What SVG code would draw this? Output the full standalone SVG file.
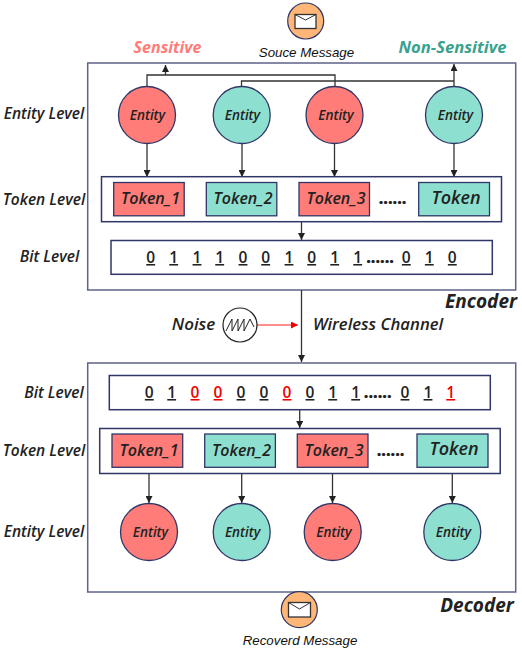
<svg xmlns="http://www.w3.org/2000/svg" width="522" height="652" viewBox="0 0 522 652">
<style>
text{font-family:"Open Sans","Noto Sans","DejaVu Sans",sans-serif;font-style:italic;font-weight:600;fill:#222;text-anchor:middle}
.frame{fill:#fff;stroke:#5d6389;stroke-width:1.5}
.bar{fill:#fff;stroke:#2f3768;stroke-width:1.5}
.red{fill:#ff7c78;stroke:#2f3768;stroke-width:1.3}
.teal{fill:#8de0d0;stroke:#2f3768;stroke-width:1.3}
.ent{font-size:13.500px}
.lvl{font-size:15.500px}
.tok{font-size:16px}
.big{font-size:19px;font-weight:700}
.bit{font-size:15.500px;font-style:normal;font-weight:600;text-decoration:underline}
.dots{font-size:16px;font-style:normal;font-weight:800}
.err{fill:#f00000}
.msg{font-family:"Liberation Sans",Arial,sans-serif;font-weight:400;font-size:13.300px;fill:#111}
.line{fill:none;stroke:#333;stroke-width:1.3}
</style>
<defs>
<marker id="ah" markerUnits="userSpaceOnUse" markerWidth="8" markerHeight="7" refX="7" refY="3.5" orient="auto"><path d="M0,0L7,3.5L0,7z" fill="#222"/></marker>
<marker id="ar" markerUnits="userSpaceOnUse" markerWidth="8" markerHeight="8" refX="7" refY="3.5" orient="auto"><path d="M0,0L7,3.5L0,7z" fill="#f00000"/></marker>
</defs>
<g id="encoder-frame"><rect class="frame" x="87.700" y="63" width="428" height="227"/></g>
<g id="decoder-frame"><rect class="frame" x="87.700" y="363" width="428" height="229"/></g>
<g id="connectors">
<path class="line" d="M147,87V75H335V87"/>
<path class="line" d="M165.500,75V65" marker-end="url(#ah)"/>
<path class="line" d="M241.500,87V81H454"/>
<path class="line" d="M454,87V64" marker-end="url(#ah)"/>
<path class="line" d="M147,143V177" marker-end="url(#ah)"/>
<path class="line" d="M242,143V177" marker-end="url(#ah)"/>
<path class="line" d="M334.500,143V177" marker-end="url(#ah)"/>
<path class="line" d="M454,143V177" marker-end="url(#ah)"/>
<path class="line" d="M301.500,222V240" marker-end="url(#ah)"/>
<path class="line" d="M301.500,290V362" marker-end="url(#ah)"/>
<path d="M257,325H298" fill="none" stroke="#ff6a6a" stroke-width="1.300" marker-end="url(#ar)"/>
<path class="line" d="M299.700,410V428" marker-end="url(#ah)"/>
<path class="line" d="M149,474V503" marker-end="url(#ah)"/>
<path class="line" d="M241.700,474V503" marker-end="url(#ah)"/>
<path class="line" d="M332.500,474V503" marker-end="url(#ah)"/>
<path class="line" d="M452.300,474V503" marker-end="url(#ah)"/>
</g>
<g id="source-message"><circle cx="305.700" cy="21" r="18" fill="#ffb677" stroke="#2f3768" stroke-width="1.200"/><rect x="295" y="14.500" width="21" height="14" fill="#fff" stroke="#333" stroke-width="1.300"/><path d="M295,14.500L305.500,20L316,14.500" fill="none" stroke="#333" stroke-width="1"/><text class="msg" x="306.500" y="57">Souce Message</text></g>
<text x="167.500" y="53" class="big" style="fill:#ff7c78;font-size:16px">Sensitive</text>
<text x="452.500" y="53" class="big" style="fill:#38a28e;font-size:16.600px">Non-Sensitive</text>
<text class="lvl" x="44" y="119">Entity Level</text>
<text class="lvl" x="44" y="205">Token Level</text>
<text class="lvl" x="49.500" y="262">Bit Level</text>
<g id="e1"><circle class="red" cx="147" cy="115" r="28.500"/><text class="ent" x="147.500" y="120">Entity</text></g>
<g id="e2"><circle class="teal" cx="241.700" cy="115" r="28.500"/><text class="ent" x="242.500" y="120">Entity</text></g>
<g id="e3"><circle class="red" cx="334.500" cy="115" r="28.500"/><text class="ent" x="336" y="120">Entity</text></g>
<g id="e4"><circle class="teal" cx="454" cy="115" r="28.500"/><text class="ent" x="455.500" y="120">Entity</text></g>
<g id="enc-token-level"><rect class="bar" x="101.500" y="176.700" width="400" height="45"/></g>
<g id="t1"><rect class="red" x="113.700" y="182.500" width="70.500" height="33.300"/><text class="tok" x="150.500" y="204">Token_1</text></g>
<g id="t2"><rect class="teal" x="206.300" y="182.500" width="70.500" height="33.300"/><text class="tok" x="243" y="204">Token_2</text></g>
<g id="t3"><rect class="red" x="299" y="182.500" width="70.500" height="33.300"/><text class="tok" x="336" y="204">Token_3</text></g>
<text class="dots" x="392.500" y="204">......</text>
<g id="t4"><rect class="teal" x="418.700" y="182.500" width="70.800" height="33.300"/><text class="tok" style="font-size:18px" x="456" y="204">Token</text></g>
<g id="enc-bits"><rect class="bar" x="111" y="240.500" width="381.300" height="33.800"/>
<text class="bit" x="150.700" y="263">0</text><text class="bit" x="173.700" y="263">1</text><text class="bit" x="197" y="263">1</text><text class="bit" x="219.700" y="263">1</text><text class="bit" x="243" y="263">0</text><text class="bit" x="265.700" y="263">0</text><text class="bit" x="289" y="263">1</text><text class="bit" x="311.700" y="263">0</text><text class="bit" x="334.700" y="263">1</text><text class="bit" x="357.700" y="263">1</text><text class="dots" x="380" y="263">......</text><text class="bit" x="406.300" y="263">0</text><text class="bit" x="429.300" y="263">1</text><text class="bit" x="452.300" y="263">0</text></g>
<text class="big" x="481" y="308">Encoder</text>
<g id="noise"><text class="lvl" x="193.500" y="330" style="font-size:17px">Noise</text><circle cx="240" cy="325" r="17" fill="#fff" stroke="#222" stroke-width="1.200"/><path d="M226,331L232,319V331L238,319V331L244,319V331L250,319L254,327" fill="none" stroke="#222" stroke-width="1"/></g>
<text class="lvl" x="378" y="330" style="font-size:16.700px">Wireless Channel</text>
<text class="lvl" x="54" y="398">Bit Level</text>
<g id="dec-bits"><rect class="bar" x="109.300" y="375.500" width="381" height="34.200"/>
<text class="bit" x="149.300" y="398">0</text><text class="bit" x="171.700" y="398">1</text><text class="bit err" x="195" y="398">0</text><text class="bit err" x="218" y="398">0</text><text class="bit" x="241" y="398">0</text><text class="bit" x="264" y="398">0</text><text class="bit err" x="287" y="398">0</text><text class="bit" x="310" y="398">0</text><text class="bit" x="332.700" y="398">1</text><text class="bit" x="355.700" y="398">1</text><text class="dots" x="377.700" y="398">......</text><text class="bit" x="405" y="398">0</text><text class="bit" x="428" y="398">1</text><text class="bit err" x="450.700" y="398">1</text></g>
<text class="lvl" x="44" y="456">Token Level</text>
<g id="dec-token-level"><rect class="bar" x="99.700" y="428.500" width="400.500" height="45"/></g>
<g id="t5"><rect class="red" x="112" y="434" width="70.700" height="33.300"/><text class="tok" x="149" y="456">Token_1</text></g>
<g id="t6"><rect class="teal" x="204.700" y="434" width="70.700" height="33.300"/><text class="tok" x="241.500" y="456">Token_2</text></g>
<g id="t7"><rect class="red" x="297.300" y="434" width="70.700" height="33.300"/><text class="tok" x="334" y="456">Token_3</text></g>
<text class="dots" x="390.500" y="456">......</text>
<g id="t8"><rect class="teal" x="417" y="434" width="71" height="33.300"/><text class="tok" style="font-size:18px" x="454" y="455">Token</text></g>
<text class="lvl" x="44" y="537">Entity Level</text>
<g id="e5"><circle class="red" cx="149" cy="532" r="28.500"/><text class="ent" x="150.500" y="537">Entity</text></g>
<g id="e6"><circle class="teal" cx="241.700" cy="532" r="28.500"/><text class="ent" x="242.700" y="537">Entity</text></g>
<g id="e7"><circle class="red" cx="332.700" cy="532" r="28.500"/><text class="ent" x="334" y="537">Entity</text></g>
<g id="e8"><circle class="teal" cx="452.300" cy="532" r="28.500"/><text class="ent" x="453.500" y="537">Entity</text></g>
<text class="big" x="477" y="612">Decoder</text>
<g id="recovered-message"><circle cx="299.300" cy="609.700" r="18" fill="#ffb677" stroke="#2f3768" stroke-width="1.200"/><rect x="288.500" y="602.500" width="22" height="14.500" fill="#fff" stroke="#333" stroke-width="1.300"/><path d="M288.500,602.500L299.500,609L310.500,602.500" fill="none" stroke="#333" stroke-width="1"/><text class="msg" x="300" y="645">Recoverd Message</text></g>
</svg>
